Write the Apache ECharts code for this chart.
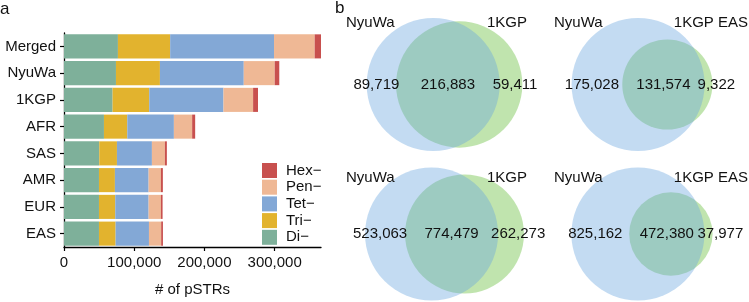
<!DOCTYPE html>
<html><head><meta charset="utf-8">
<script src="https://cdn.jsdelivr.net/npm/echarts@6/dist/echarts.min.js"></script>
<style>html,body{margin:0;padding:0;background:#fff}#c{width:749px;height:302px}</style>
</head><body><div id="c"></div>
<script>
// ---- Panel a: stacked bars ----
const categories = ['Merged', 'NyuWa', '1KGP', 'AFR', 'SAS', 'AMR', 'EUR', 'EAS'];
const diValues  = [76800, 74000, 69200, 56900, 50200, 49800, 49800, 49800];
const triValues = [74400, 62600, 52200, 33200, 25200, 22700, 23200, 23700];
const tetValues = [147900, 119400, 105700, 66400, 49800, 48000, 47500, 47500];
const penValues = [57900, 44100, 42200, 26000, 18500, 17500, 17500, 17400];
const hexValues = [9000, 6500, 7000, 4300, 2800, 2800, 2400, 2500];
const seriesNames = ['Di−', 'Tri−', 'Tet−', 'Pen−', 'Hex−'];
const legendOrder = ['Hex−', 'Pen−', 'Tet−', 'Tri−', 'Di−'];
const xTicks = [0, 100000, 200000, 300000];

// ---- Panel b: Venn diagrams ----
const vennLeftNames  = ['NyuWa', 'NyuWa', 'NyuWa', 'NyuWa'];
const vennRightNames = ['1KGP', '1KGP EAS', '1KGP', '1KGP EAS'];
const onlyLeft  = [89719, 175028, 523063, 825162];
const both      = [216883, 131574, 774479, 472380];
const onlyRight = [59411, 9322, 262273, 37977];

const FONT = "'Liberation Sans', Arial, Helvetica, sans-serif";
const TXT = '#111';
const barColors = ['#7eb09a', '#e2b32e', '#83a8d6', '#efb895', '#c8504e'];
const blueFill = 'rgba(105,165,222,0.40)';
const greenFill = 'rgba(150,210,120,0.60)';

const allValues = [diValues, triValues, tetValues, penValues, hexValues];
const totals = categories.map((_, i) => allValues.reduce((s, a) => s + a[i], 0));
const xMax = Math.max(...totals);

function overlapArea(r1, r2, d) {
  if (d >= r1 + r2) return 0;
  if (d <= Math.abs(r1 - r2)) return Math.PI * Math.min(r1, r2) ** 2;
  const a1 = Math.acos((d * d + r1 * r1 - r2 * r2) / (2 * d * r1));
  const a2 = Math.acos((d * d + r2 * r2 - r1 * r1) / (2 * d * r2));
  const t = Math.sqrt((-d + r1 + r2) * (d + r1 - r2) * (d - r1 + r2) * (d + r1 + r2));
  return r1 * r1 * a1 + r2 * r2 * a2 - 0.5 * t;
}
const venns = onlyLeft.map((_, i) => {
  const a = onlyLeft[i] + both[i], b = onlyRight[i] + both[i];
  const rb = 1, rg = Math.sqrt(b / a);
  const target = Math.PI * both[i] / a;
  let lo = Math.abs(rb - rg), hi = rb + rg;
  for (let k = 0; k < 80; k++) {
    const mid = (lo + hi) / 2;
    if (overlapArea(rb, rg, mid) > target) lo = mid; else hi = mid;
  }
  const d = (lo + hi) / 2;
  return { rb, rg, d, dc: (-rb + Math.max(rb, d + rg)) / 2 };
});

const K = 66.5;           // px per unit (NyuWa circle radius)
const colCx = [444.5, 642];
const rowCy = [84.5, 234];
const HALF = 60;

const grids = [{ left: 64, top: 33, width: 257, height: 216 }];
const xAxes = [{
  type: 'value', gridIndex: 0, min: 0, max: xMax,
  axisLine: { show: true, lineStyle: { color: '#000', width: 1.3 } },
  axisTick: { show: true, length: 4, lineStyle: { color: '#000', width: 1.2 }, customValues: xTicks },
  axisLabel: { customValues: xTicks, fontSize: 15, color: TXT, fontFamily: FONT, margin: 8,
    formatter: v => Number(v).toLocaleString('en-US') },
  splitLine: { show: false },
  name: '# of pSTRs', nameLocation: 'middle', nameGap: 35,
  nameTextStyle: { fontSize: 15, color: TXT, fontFamily: FONT }
}];
const yAxes = [{
  type: 'category', gridIndex: 0, data: categories, inverse: true,
  axisLine: { show: true, lineStyle: { color: '#000', width: 1.3 } },
  axisTick: { show: true, length: 4, alignWithLabel: true, lineStyle: { color: '#000', width: 1.2 } },
  axisLabel: { fontSize: 15, color: TXT, fontFamily: FONT, margin: 8 }
}];

const series = seriesNames.map((n, si) => ({
  name: n, type: 'bar', stack: 'total', xAxisIndex: 0, yAxisIndex: 0,
  data: allValues[si], barWidth: '90%',
  itemStyle: { color: barColors[si] }
}));

venns.forEach((v, i) => {
  const col = i % 2, row = Math.floor(i / 2);
  const cx = colCx[col], cy = rowCy[row];
  grids.push({ left: cx - HALF, top: cy - HALF, width: 2 * HALF, height: 2 * HALF });
  xAxes.push({ type: 'value', gridIndex: i + 1, min: v.dc - HALF / K, max: v.dc + HALF / K, show: false });
  yAxes.push({ type: 'value', gridIndex: i + 1, min: -HALF / K, max: HALF / K, show: false });
  series.push({
    type: 'custom', coordinateSystem: 'cartesian2d', xAxisIndex: i + 1, yAxisIndex: i + 1,
    clip: false, silent: true, z: 3,
    data: [[v.d, 0, v.rg, 0], [0, 0, v.rb, 1], [0, 0, 0, 2]],
    renderItem: (params, api) => {
      const kind = api.value(3);
      if (kind < 2) {
        const x0 = api.value(0), y0 = api.value(1), rr = api.value(2);
        const c = api.coord([x0, y0]);
        const e = api.coord([x0 + rr, y0]);
        const r = Math.abs(e[0] - c[0]);
        return { type: 'circle', shape: { cx: c[0], cy: c[1], r },
          style: { fill: kind === 0 ? greenFill : blueFill } };
      }
      const blueL = api.coord([-v.rb, 0]), blueR = api.coord([v.rb, 0]);
      const greenL = api.coord([v.d - v.rg, 0]);
      const yc = blueL[1];
      const mk = (x, text, align) => ({ type: 'text', x, y: yc, z2: 10,
        style: { text, fill: TXT, fontSize: 15, fontFamily: FONT, align, verticalAlign: 'middle' } });
      return { type: 'group', children: [
        mk((blueL[0] + greenL[0]) / 2 - 5, onlyLeft[i].toLocaleString('en-US'), 'center'),
        mk((greenL[0] + blueR[0]) / 2, both[i].toLocaleString('en-US'), 'center'),
        mk(blueR[0] - 7, onlyRight[i].toLocaleString('en-US'), 'left')
      ] };
    }
  });
});

const nameRowY = [22.7, 177.5];
const nameColL = [346, 554];
const nameColR = [527, 748];
const graphic = [
  { type: 'text', left: 0, top: 1, z: 100, style: { text: 'a', fontSize: 17, fill: TXT, fontFamily: FONT } },
  { type: 'text', left: 335, top: 0, z: 100, style: { text: 'b', fontSize: 17, fill: TXT, fontFamily: FONT } }
];
venns.forEach((v, i) => {
  const col = i % 2, row = Math.floor(i / 2);
  graphic.push({ type: 'text', x: nameColL[col], y: nameRowY[row], z: 100,
    style: { text: vennLeftNames[i], fontSize: 15, fill: TXT, fontFamily: FONT, align: 'left', verticalAlign: 'middle' } });
  graphic.push({ type: 'text', x: nameColR[col], y: nameRowY[row], z: 100,
    style: { text: vennRightNames[i], fontSize: 15, fill: TXT, fontFamily: FONT, align: 'right', verticalAlign: 'middle' } });
});

const chart = echarts.init(document.getElementById('c'), null, { renderer: 'canvas' });
chart.setOption({
  animation: false,
  backgroundColor: '#fff',
  grid: grids, xAxis: xAxes, yAxis: yAxes, series,
  legend: {
    data: legendOrder, orient: 'vertical', left: 257, top: 158,
    itemWidth: 15, itemHeight: 15, itemGap: 1.7, icon: 'rect',
    textStyle: { fontSize: 15, color: TXT, fontFamily: FONT, lineHeight: 15, padding: [0, 0, 0, 4] },
    selectedMode: false
  },
  graphic
});
</script></body></html>
